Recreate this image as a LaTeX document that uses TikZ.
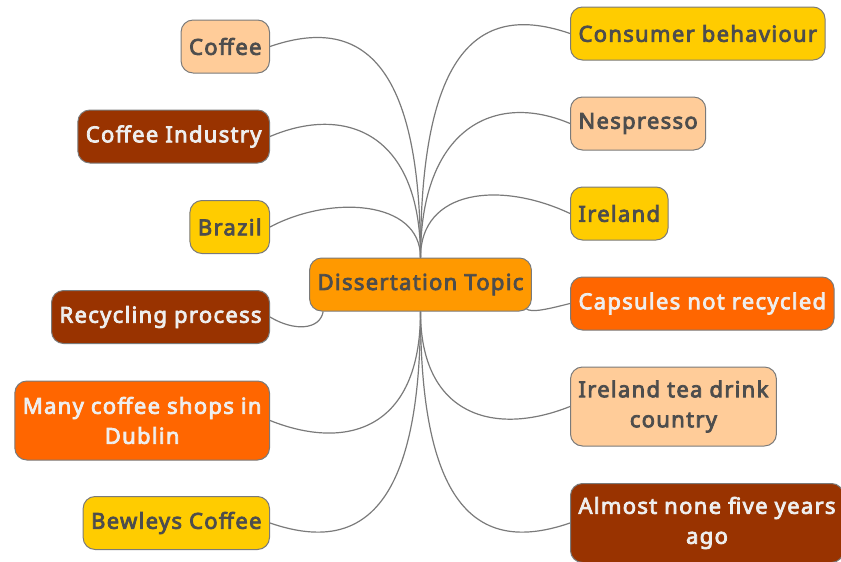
\documentclass[tikz,border=0pt]{standalone}
\usepackage{fontspec}
\setmainfont{Noto Sans}[AutoFakeBold=3.6, LetterSpace=6]
\usepackage{xcolor}
\usepackage{tikz}
\usetikzlibrary{positioning, calc}

\definecolor{peachfill}{HTML}{FFCC99}
\definecolor{yellowfill}{HTML}{FFCC00}
\definecolor{orangefill}{HTML}{FF6600}
\definecolor{brownfill}{HTML}{993300}
\definecolor{topicfill}{HTML}{FF9900}
\definecolor{darktext}{HTML}{4D4D4D}
\definecolor{lighttext}{HTML}{EEEEEE}
\definecolor{edgegray}{HTML}{7A7A7A}

\begin{document}
\begin{tikzpicture}[x=1pt, y=-1pt,
		leaf/.style={draw=edgegray, line width=1pt, rounded corners=12pt, align=center,
			font=\fontsize{22}{30}\selectfont\bfseries, inner xsep=8pt, minimum height=53pt},
		peachleaf/.style={leaf, fill=peachfill, text=darktext},
		yellowleaf/.style={leaf, fill=yellowfill, text=darktext},
		orangeleaf/.style={leaf, fill=orangefill, text=lighttext},
		brownleaf/.style={leaf, fill=brownfill, text=lighttext},
		topicbox/.style={leaf, fill=topicfill, text=darktext},
		link/.style={draw=edgegray, line width=1.2pt}]
		\useasboundingbox (0,0) rectangle (841,562);

		% centre
		\node[topicbox] (topic) at (420.5,284.5) {Dissertation Topic};

		% left side
		\node[peachleaf, anchor=east] (coffee) at (270,46.5) {Coffee};
		\node[brownleaf, anchor=east] (industry) at (270,136.5) {Coffee Industry};
		\node[yellowleaf, anchor=east] (brazil) at (270,227) {Brazil};
		\node[brownleaf, anchor=east] (recycling) at (270,317) {Recycling process};
		\node[orangeleaf, anchor=east, minimum height=79pt] (shops) at (270,420.5) {Many coffee shops in\\
			Dublin};
		\node[yellowleaf, anchor=east] (bewleys) at (270,523) {Bewleys Coffee};

		% right side
		\node[yellowleaf, anchor=west] (consumer) at (570,33.5) {Consumer behaviour};
		\node[peachleaf, anchor=west] (nespresso) at (570,123.5) {Nespresso};
		\node[yellowleaf, anchor=west] (ireland) at (570,213.5) {Ireland};
		\node[orangeleaf, anchor=west] (capsules) at (570,303.5) {Capsules not recycled};
		\node[peachleaf, anchor=west, minimum height=79pt] (tea) at (570,406.5) {Ireland tea drink\\
			country};
		\node[brownleaf, anchor=west, minimum height=79pt] (almost) at (570,523) {Almost none five years\\
			ago};

		% links
		\draw[link] (topic.north) .. controls +(0,-198) and +(90,-31) .. (coffee.east);
		\draw[link] (topic.north) .. controls +(0,-125) and +(75,-32) .. (industry.east);
		\draw[link] (topic.north) .. controls +(0,-58) and +(60,-32) .. (brazil.east);
		\draw[link] ([xshift=14pt]topic.south west) .. controls +(-3,18) and +(25,15) .. (recycling.east);
		\draw[link] (topic.south) .. controls +(0,120) and +(75,30) .. (shops.east);
		\draw[link] (topic.south) .. controls +(0,200) and +(90,31) .. (bewleys.east);

		\draw[link] (topic.north) .. controls +(0,-210) and +(-90,-31) .. (consumer.west);
		\draw[link] (topic.north) .. controls +(0,-130) and +(-75,-32) .. (nespresso.west);
		\draw[link] (topic.north) .. controls +(0,-68) and +(-70,-33) .. (ireland.west);
		\draw[link] ([xshift=-6pt, yshift=3pt]topic.south east) .. controls +(5,5) and +(-20,5) .. (capsules.west);
		\draw[link] (topic.south) .. controls +(0,105) and +(-75,30) .. (tea.west);
		\draw[link] (topic.south) .. controls +(0,200) and +(-90,31) .. (almost.west);
	\end{tikzpicture}
\end{document}
